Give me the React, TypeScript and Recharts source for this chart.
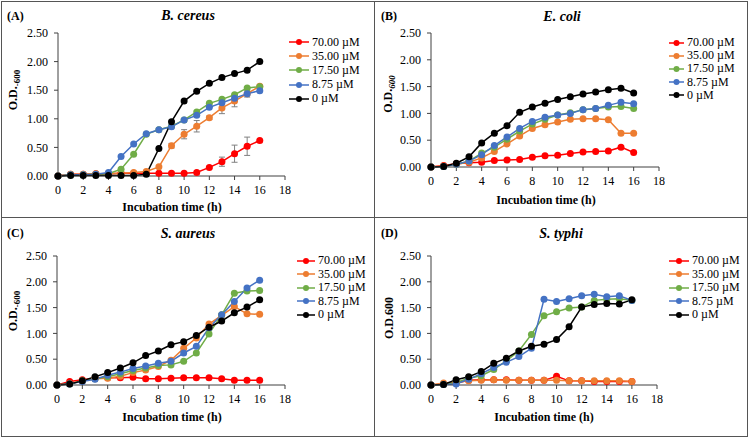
import React from "react";
import { LineChart, Line, XAxis, YAxis, Legend, ErrorBar } from "recharts";

const HOURS = [0, 1, 2, 3, 4, 5, 6, 7, 8, 9, 10, 11, 12, 13, 14, 15, 16];
const X_TICKS = [0, 2, 4, 6, 8, 10, 12, 14, 16, 18];
const Y_TICKS = [0, 0.5, 1, 1.5, 2, 2.5];

const SERIES = [
  { key: "c70", name: "70.00 µM", color: "#FF0000" },
  { key: "c35", name: "35.00 µM", color: "#ED7D31" },
  { key: "c17", name: "17.50 µM", color: "#70AD47" },
  { key: "c8", name: "8.75 µM", color: "#4472C4" },
  { key: "c0", name: "0 µM", color: "#000000" },
];

// (A) B. cereus
const cereus70 = [0, 0.03, 0.03, 0.04, 0.04, 0.05, 0.05, 0.05, 0.05, 0.05, 0.05, 0.06, 0.15, 0.25, 0.39, 0.52, 0.62];
const cereus35 = [0, 0.03, 0.03, 0.04, 0.04, 0.05, 0.06, 0.08, 0.16, 0.53, 0.73, 0.87, 1.02, 1.19, 1.31, 1.44, 1.57];
const cereus17 = [0, 0.02, 0.02, 0.03, 0.04, 0.12, 0.38, 0.73, 0.81, 0.87, 0.98, 1.12, 1.27, 1.34, 1.42, 1.54, 1.56];
const cereus8 = [0, 0.02, 0.02, 0.03, 0.06, 0.34, 0.56, 0.74, 0.81, 0.86, 0.98, 1.06, 1.2, 1.28, 1.36, 1.44, 1.49];
const cereus0 = [0, 0.01, 0.01, 0.01, 0.01, 0.01, 0.01, 0.03, 0.48, 0.95, 1.31, 1.48, 1.62, 1.72, 1.79, 1.85, 2.0];
const cereus70Err = [0, 0, 0, 0, 0, 0, 0, 0, 0, 0, 0, 0, 0.02, 0.08, 0.15, 0.16, 0.02];
const cereus35Err = [0, 0, 0, 0, 0, 0, 0, 0, 0, 0.04, 0.08, 0.1, 0.03, 0.1, 0.1, 0.06, 0.02];

// (B) E. coli
const coli70 = [0, 0.03, 0.06, 0.08, 0.09, 0.12, 0.13, 0.14, 0.18, 0.21, 0.22, 0.25, 0.28, 0.29, 0.3, 0.37, 0.27];
const coli35 = [0, 0.02, 0.05, 0.09, 0.17, 0.29, 0.43, 0.58, 0.72, 0.79, 0.84, 0.89, 0.9, 0.9, 0.88, 0.63, 0.63];
const coli17 = [0, 0.01, 0.05, 0.11, 0.26, 0.37, 0.52, 0.67, 0.8, 0.89, 0.97, 1.01, 1.07, 1.09, 1.12, 1.13, 1.09];
const coli8 = [0, 0.01, 0.05, 0.11, 0.23, 0.4, 0.56, 0.72, 0.85, 0.93, 0.97, 1.0, 1.07, 1.09, 1.15, 1.21, 1.18];
const coli0 = [0, 0.01, 0.07, 0.19, 0.45, 0.63, 0.77, 1.02, 1.12, 1.19, 1.26, 1.31, 1.36, 1.4, 1.44, 1.47, 1.38];

// (C) S. aureus
const aureus70 = [0, 0.07, 0.1, 0.13, 0.14, 0.14, 0.15, 0.12, 0.12, 0.13, 0.14, 0.14, 0.14, 0.12, 0.09, 0.09, 0.09];
const aureus35 = [0, 0.03, 0.08, 0.12, 0.13, 0.17, 0.24, 0.29, 0.36, 0.48, 0.71, 0.91, 1.18, 1.35, 1.52, 1.38, 1.37];
const aureus17 = [0, 0.02, 0.08, 0.12, 0.16, 0.22, 0.28, 0.33, 0.38, 0.39, 0.46, 0.62, 0.99, 1.36, 1.78, 1.82, 1.83];
const aureus8 = [0, 0.02, 0.07, 0.11, 0.19, 0.25, 0.32, 0.37, 0.42, 0.46, 0.62, 0.75, 1.11, 1.36, 1.62, 1.88, 2.03];
const aureus0 = [0, 0.02, 0.08, 0.16, 0.24, 0.33, 0.43, 0.57, 0.66, 0.78, 0.84, 0.96, 1.12, 1.24, 1.4, 1.51, 1.65];

// (D) S. typhi
const typhi70 = [0, 0.02, 0.04, 0.09, 0.1, 0.1, 0.1, 0.09, 0.09, 0.09, 0.17, 0.08, 0.08, 0.07, 0.07, 0.07, 0.07];
const typhi35 = [0, 0.04, 0.05, 0.08, 0.09, 0.1, 0.09, 0.09, 0.09, 0.09, 0.09, 0.08, 0.08, 0.08, 0.08, 0.08, 0.07];
const typhi17 = [0, 0.01, 0.05, 0.13, 0.18, 0.3, 0.47, 0.66, 0.98, 1.34, 1.42, 1.49, 1.51, 1.64, 1.66, 1.67, 1.64];
const typhi8 = [0, 0.01, 0.02, 0.11, 0.22, 0.34, 0.44, 0.55, 0.71, 1.66, 1.62, 1.67, 1.73, 1.76, 1.71, 1.73, 1.64];
const typhi0 = [0, 0.01, 0.1, 0.16, 0.26, 0.42, 0.52, 0.66, 0.75, 0.79, 0.88, 1.13, 1.51, 1.56, 1.58, 1.57, 1.65];

const FONT = "'Liberation Serif', 'Times New Roman', serif";

function rows(v70: number[], v35: number[], v17: number[], v8: number[], v0: number[], e70?: number[], e35?: number[]) {
  return HOURS.map((h, i) => ({
    h,
    c70: v70[i],
    c35: v35[i],
    c17: v17[i],
    c8: v8[i],
    c0: v0[i],
    e70: e70 ? e70[i] : 0,
    e35: e35 ? e35[i] : 0,
  }));
}

function LegendBox({ x, y, text, gap }: { x: number; y: number; text: number; gap: number }) {
  return (
    <div style={{ position: "absolute", left: x, top: y, fontFamily: FONT, fontSize: 12, color: "#000" }}>
      {SERIES.map((s) => (
        <div key={s.key} style={{ height: gap, display: "flex", alignItems: "center" }}>
          <svg width={text} height={8} style={{ flexShrink: 0 }}>
            <line x1={0} y1={4} x2={text - 3} y2={4} stroke={s.color} strokeWidth={1.5} />
            <circle cx={(text - 3) / 2} cy={4} r={3} fill={s.color} />
          </svg>
          <span style={{ whiteSpace: "nowrap" }}>{s.name}</span>
        </div>
      ))}
    </div>
  );
}

interface PanelProps {
  left: number;
  top: number;
  width: number;
  height: number;
  tag: string;
  title: string;
  data: ReturnType<typeof rows>;
  margin: { top: number; right: number; left: number; bottom: number };
  titleY: number;
  titleX: number;
  xTitleX: number;
  xTitleY: number;
  yLabelX: number;
  yLabelY: number;
  yLabel: React.ReactNode;
  legend: { x: number; y: number; text: number; gap: number };
  errors?: boolean;
}

function Panel(p: PanelProps) {
  const center: React.CSSProperties = {
    position: "absolute",
    transform: "translate(-50%, -50%)",
    whiteSpace: "nowrap",
    fontFamily: FONT,
    color: "#000",
  };
  return (
    <div style={{ position: "absolute", left: p.left, top: p.top, width: p.width, height: p.height }}>
      <LineChart width={p.width} height={p.height} data={p.data} margin={p.margin}>
        <XAxis
          dataKey="h"
          type="number"
          domain={[0, 18]}
          ticks={X_TICKS}
          interval={0}
          height={30}
          tickSize={4}
          tickMargin={5}
          stroke="#404040"
          tick={{ fill: "#000", fontSize: 12, fontFamily: FONT }}
        />
        <YAxis
          type="number"
          domain={[0, 2.5]}
          ticks={Y_TICKS}
          interval={0}
          width={40}
          tickSize={4}
          tickMargin={6}
          stroke="#404040"
          tickFormatter={(v: number) => v.toFixed(2)}
          tick={{ fill: "#000", fontSize: 12, fontFamily: FONT }}
        />
        {SERIES.map((s) => (
          <Line
            key={s.key}
            dataKey={s.key}
            name={s.name}
            stroke={s.color}
            strokeWidth={1.5}
            dot={{ r: 3.5, fill: s.color, stroke: s.color, strokeWidth: 0 }}
            isAnimationActive={false}
          >
            {p.errors && s.key === "c70" ? <ErrorBar dataKey="e70" width={3} stroke="#808080" strokeWidth={1} /> : null}
            {p.errors && s.key === "c35" ? <ErrorBar dataKey="e35" width={3} stroke="#808080" strokeWidth={1} /> : null}
          </Line>
        ))}
        <Legend content={() => null} />
      </LineChart>
      <div style={{ position: "absolute", left: 6, top: 8, fontFamily: FONT, fontSize: 12, fontWeight: "bold" }}>{p.tag}</div>
      <div style={{ ...center, left: p.titleX, top: p.titleY, fontSize: 14, fontWeight: "bold", fontStyle: "italic" }}>{p.title}</div>
      <div style={{ ...center, left: p.xTitleX, top: p.xTitleY, fontSize: 12, fontWeight: "bold" }}>Incubation time (h)</div>
      <div
        style={{
          ...center,
          left: p.yLabelX,
          top: p.yLabelY,
          fontSize: 12,
          fontWeight: "bold",
          transform: "translate(-50%, -50%) rotate(-90deg)",
        }}
      >
        {p.yLabel}
      </div>
      <LegendBox {...p.legend} />
    </div>
  );
}

const sub = (t: string, italic = false) => (
  <span>
    O.D.<sub style={{ fontSize: 9, fontStyle: italic ? "italic" : "normal" }}>{t}</sub>
  </span>
);

export default function App() {
  return (
    <div style={{ position: "fixed", left: 0, top: 0, width: 748, height: 437, background: "#fff", overflow: "hidden" }}>
      <div style={{ position: "absolute", left: 1, top: 1, width: 745, height: 434, border: "1px solid #555", boxSizing: "content-box" }} />
      <div style={{ position: "absolute", left: 374, top: 1, width: 1, height: 435, background: "#555" }} />
      <div style={{ position: "absolute", left: 1, top: 217, width: 746, height: 1, background: "#555" }} />
      <Panel
        left={1}
        top={1}
        width={373}
        height={216}
        tag="(A)"
        title="B. cereus"
        data={rows(cereus70, cereus35, cereus17, cereus8, cereus0, cereus70Err, cereus35Err)}
        margin={{ top: 32, right: 89, left: 17, bottom: 11 }}
        titleX={187}
        titleY={15}
        xTitleX={171}
        xTitleY={206}
        yLabelX={13}
        yLabelY={89}
        yLabel={sub("-600")}
        legend={{ x: 288, y: 34, text: 23, gap: 14.2 }}
        errors
      />
      <Panel
        left={375}
        top={1}
        width={372}
        height={216}
        tag="(B)"
        title="E. coli"
        data={rows(coli70, coli35, coli17, coli8, coli0)}
        margin={{ top: 32, right: 88, left: 16, bottom: 20 }}
        titleX={187}
        titleY={16}
        xTitleX={171}
        xTitleY={199}
        yLabelX={14}
        yLabelY={93}
        yLabel={sub("600", true)}
        legend={{ x: 294, y: 35, text: 18, gap: 13.2 }}
      />
      <Panel
        left={1}
        top={218}
        width={373}
        height={218}
        tag="(C)"
        title="S. aureus"
        data={rows(aureus70, aureus35, aureus17, aureus8, aureus0)}
        margin={{ top: 38, right: 89, left: 16, bottom: 21 }}
        titleX={187}
        titleY={16}
        xTitleX={171}
        xTitleY={199}
        yLabelX={13}
        yLabelY={93}
        yLabel={sub("-600")}
        legend={{ x: 296, y: 36, text: 21, gap: 13.5 }}
      />
      <Panel
        left={375}
        top={218}
        width={372}
        height={218}
        tag="(D)"
        title="S. typhi"
        data={rows(typhi70, typhi35, typhi17, typhi8, typhi0)}
        margin={{ top: 38, right: 90, left: 16, bottom: 21 }}
        titleX={186}
        titleY={16}
        xTitleX={169}
        xTitleY={199}
        yLabelX={14}
        yLabelY={100}
        yLabel={<span>O.D.600</span>}
        legend={{ x: 294, y: 36, text: 23, gap: 13.5 }}
      />
    </div>
  );
}
